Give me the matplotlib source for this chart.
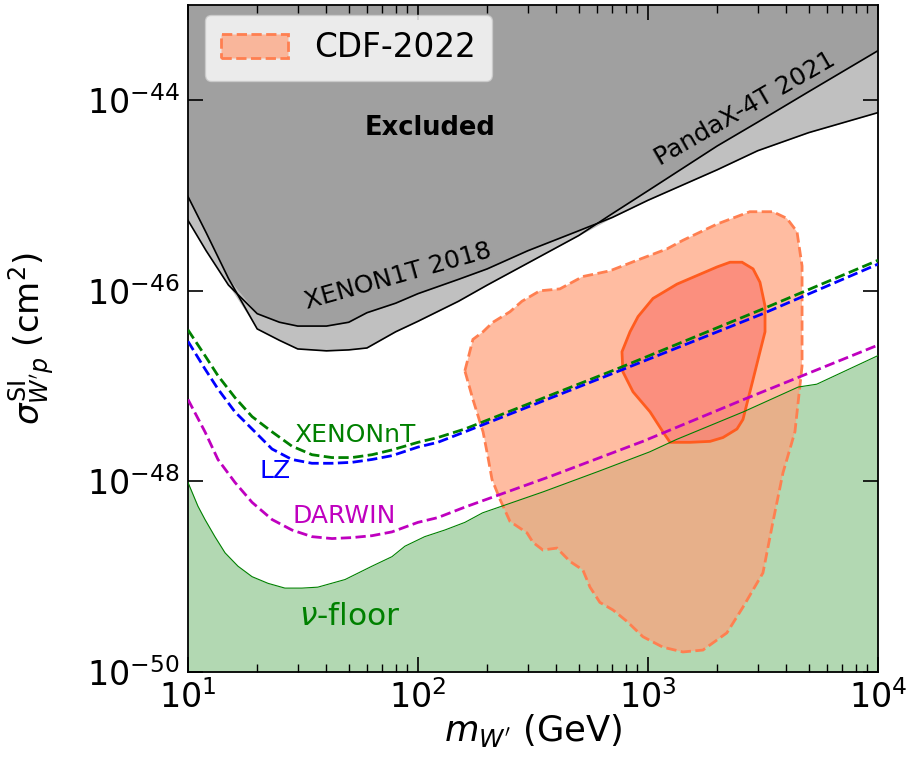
"""
W' dark matter direct detection plot: spin-independent W'-proton cross section
versus W' mass, with current limits, projections, neutrino floor and the CDF-2022 region.

Saves the figure to out.png.
"""

import numpy as np
import matplotlib.pyplot as plt
from matplotlib.ticker import NullLocator

# current limits, both read at the same masses (GeV), log10(sigma / cm^2)
mass_excl = [10, 12, 15, 20, 25, 30, 40, 50, 60, 80, 100, 150, 200, 300, 500,
             700, 1000, 2000, 3000, 5000, 10000]
pandax_logsig = [-45.01, -45.39, -45.87, -46.40, -46.52, -46.61, -46.63, -46.62,
                 -46.60, -46.43, -46.32, -46.11, -45.94, -45.71, -45.42, -45.19,
                 -44.95, -44.48, -44.23, -43.91, -43.48]
xenon1t_logsig = [-45.26, -45.58, -45.94, -46.24, -46.33, -46.37, -46.37, -46.33,
                  -46.23, -46.13, -46.03, -45.88, -45.77, -45.58, -45.37, -45.23,
                  -45.05, -44.73, -44.53, -44.34, -44.13]

# projections
proj_mass = [10, 11.86, 13.5, 16.0, 19.0, 23.2, 28.3, 34.6, 42.3, 51.6, 63.1,
             77.1, 100, 122, 160, 733, 3160, 10000]
xenonnt_logsig = [-46.41, -46.68, -46.89, -47.12, -47.32, -47.48, -47.63, -47.72,
                  -47.75, -47.75, -47.72, -47.67, -47.59, -47.54, -47.45, -46.82,
                  -46.19, -45.68]
lz_logsig = [-46.53, -46.82, -47.03, -47.27, -47.45, -47.66, -47.77, -47.81,
             -47.81, -47.80, -47.77, -47.73, -47.64, -47.59, -47.48, -46.85,
             -46.24, -45.72]

darwin_mass = [10, 11.86, 13.5, 16.0, 19.0, 23.2, 28.3, 34.6, 42.3, 51.6, 63.1,
               77.1, 100, 122, 160, 374, 950, 2610, 10000]
darwin_logsig = [-47.14, -47.48, -47.77, -48.01, -48.22, -48.40, -48.51, -48.58,
                 -48.60, -48.59, -48.57, -48.53, -48.43, -48.38, -48.27, -47.95,
                 -47.58, -47.14, -46.57]

# neutrino floor
floor_mass = [10, 11.05, 11.86, 13.1, 14.5, 16.5, 19.0, 22.3, 26.4, 31.3, 36.7,
              48.2, 63.1, 77.1, 87.8, 107, 131, 160, 191, 350, 617, 1018, 1331,
              2600, 4500, 5420, 10000]
floor_logsig = [-48.01, -48.26, -48.40, -48.58, -48.75, -48.89, -49.00, -49.07,
                -49.12, -49.12, -49.11, -49.03, -48.89, -48.79, -48.68, -48.58,
                -48.51, -48.43, -48.33, -48.11, -47.89, -47.69, -47.56, -47.27,
                -47.01, -46.98, -46.68]

# CDF-2022 preferred region, log10(mass/GeV) and log10(sigma/cm^2)
cdf_outer_logm = [2.204, 2.239, 2.283, 2.326, 2.400, 2.452, 2.530, 2.617, 2.717,
                  2.835, 2.952, 3.083, 3.152, 3.300, 3.443, 3.543, 3.604, 3.648,
                  3.670, 3.670, 3.639, 3.587, 3.543, 3.500, 3.413, 3.343, 3.239,
                  3.152, 3.065, 2.978, 2.909, 2.848, 2.791, 2.748, 2.717, 2.661,
                  2.604, 2.543, 2.500, 2.474, 2.400, 2.357, 2.322, 2.304, 2.283,
                  2.239]
cdf_outer_logsig = [-46.84, -46.51, -46.43, -46.33, -46.22, -46.11, -46.00, -45.98,
                    -45.85, -45.79, -45.68, -45.56, -45.47, -45.30, -45.17, -45.17,
                    -45.24, -45.38, -45.74, -46.79, -47.48, -47.91, -48.43, -48.96,
                    -49.32, -49.59, -49.77, -49.79, -49.74, -49.63, -49.47, -49.35,
                    -49.27, -49.11, -48.93, -48.84, -48.70, -48.72, -48.64, -48.54,
                    -48.42, -48.19, -47.98, -47.74, -47.48, -47.14]
cdf_inner_logm = [3.022, 3.126, 3.213, 3.300, 3.357, 3.409, 3.457, 3.487, 3.509,
                  3.509, 3.487, 3.457, 3.435, 3.413, 3.387, 3.326, 3.270, 3.183,
                  3.096, 3.065, 3.009, 2.935, 2.891, 2.887, 2.922, 2.957]
cdf_inner_logsig = [-46.08, -45.93, -45.84, -45.75, -45.70, -45.70, -45.77, -45.91,
                    -46.16, -46.43, -46.64, -46.93, -47.14, -47.35, -47.45, -47.54,
                    -47.58, -47.59, -47.59, -47.48, -47.27, -47.06, -46.85, -46.64,
                    -46.43, -46.27]


def make_plot():
    fig = plt.figure(figsize=(9.2, 7.61), dpi=100)
    ax = fig.add_axes([0.2043, 0.117, 0.75, 0.8765])
    ax.set_xscale('log')
    ax.set_yscale('log')
    ymin, ymax = 1e-50, 1e-43

    # excluded region
    m = np.array(mass_excl)
    a = np.array(pandax_logsig)
    b = np.array(xenon1t_logsig)
    ax.fill_between(m, 10**np.minimum(a, b), ymax, color='#c0c0c0', lw=0, zorder=1)
    ax.fill_between(m, 10**np.maximum(a, b), ymax, color='#a0a0a0', lw=0, zorder=1)
    ax.plot(m, 10**a, color='k', lw=1.2, zorder=2)
    ax.plot(m, 10**b, color='k', lw=1.2, zorder=2)

    # neutrino floor
    fm = np.array(floor_mass)
    fs = 10**np.array(floor_logsig)
    ax.fill_between(fm, ymin, fs, color='g', alpha=0.3, lw=0, zorder=1)
    ax.plot(fm, fs, color='g', lw=0.8, zorder=4)

    # CDF-2022 region
    ax.fill(10**np.array(cdf_outer_logm), 10**np.array(cdf_outer_logsig),
            facecolor=(1.0, 0.627, 0.478, 0.7), edgecolor='coral', lw=2,
            ls='--', zorder=3, label='CDF-2022')
    ax.fill(10**np.array(cdf_inner_logm), 10**np.array(cdf_inner_logsig),
            facecolor=(0.98, 0.50, 0.45, 0.75), edgecolor=(1.0, 0.36, 0.12),
            lw=2, zorder=3)

    # projections
    ax.plot(proj_mass, 10**np.array(xenonnt_logsig), 'g--', lw=2, zorder=5)
    ax.plot(proj_mass, 10**np.array(lz_logsig), 'b--', lw=2, zorder=5)
    ax.plot(darwin_mass, 10**np.array(darwin_logsig), 'm--', lw=2, zorder=5)

    # labels
    ax.text(113, 5.07e-45, 'Excluded', fontsize=18.5, fontweight='bold',
            ha='center', va='center', zorder=6)
    ax.text(82, 1.44e-46, 'XENON1T 2018', fontsize=18, rotation=15.7,
            ha='center', va='center', zorder=6)
    ax.text(2640, 8.2e-45, 'PandaX-4T 2021', fontsize=18, rotation=30,
            ha='center', va='center', zorder=6)
    ax.text(53, 3.1e-48, 'XENONnT', fontsize=18, color='g',
            ha='center', va='center', zorder=6)
    ax.text(24, 1.27e-48, 'LZ', fontsize=18, color='b',
            ha='center', va='center', zorder=6)
    ax.text(48, 4.3e-49, 'DARWIN', fontsize=18, color='m',
            ha='center', va='center', zorder=6)
    ax.text(50.6, 3.8e-50, r'$\nu$-floor', fontsize=22.5, color='g',
            ha='center', va='center', zorder=6)

    ax.set_xlim(10, 1e4)
    ax.set_ylim(ymin, ymax)
    ax.set_yticks([1e-50, 1e-48, 1e-46, 1e-44])
    ax.yaxis.set_minor_locator(NullLocator())
    ax.tick_params(which='both', direction='in', top=True, right=True,
                   labelsize=24, pad=6)
    ax.tick_params(which='major', length=11, width=1.2)
    ax.tick_params(which='minor', length=5.5, width=1.0)
    for s in ax.spines.values():
        s.set_linewidth(1.3)

    ax.set_xlabel(r"$m_{W'}$ (GeV)", fontsize=25.5)
    ax.set_ylabel(r"$\sigma^{\rm SI}_{W'p}$ (cm$^2$)", fontsize=24.5)
    ax.yaxis.set_label_coords(-0.19, 0.5)
    ax.xaxis.set_label_coords(0.5, -0.06)

    ax.legend(loc='upper left', bbox_to_anchor=(0.0246, 0.985), borderaxespad=0,
              fontsize=23.5, borderpad=0.5, handlelength=2.05, handleheight=0.75)

    fig.savefig('out.png', dpi=100)


if __name__ == "__main__":
    make_plot()
